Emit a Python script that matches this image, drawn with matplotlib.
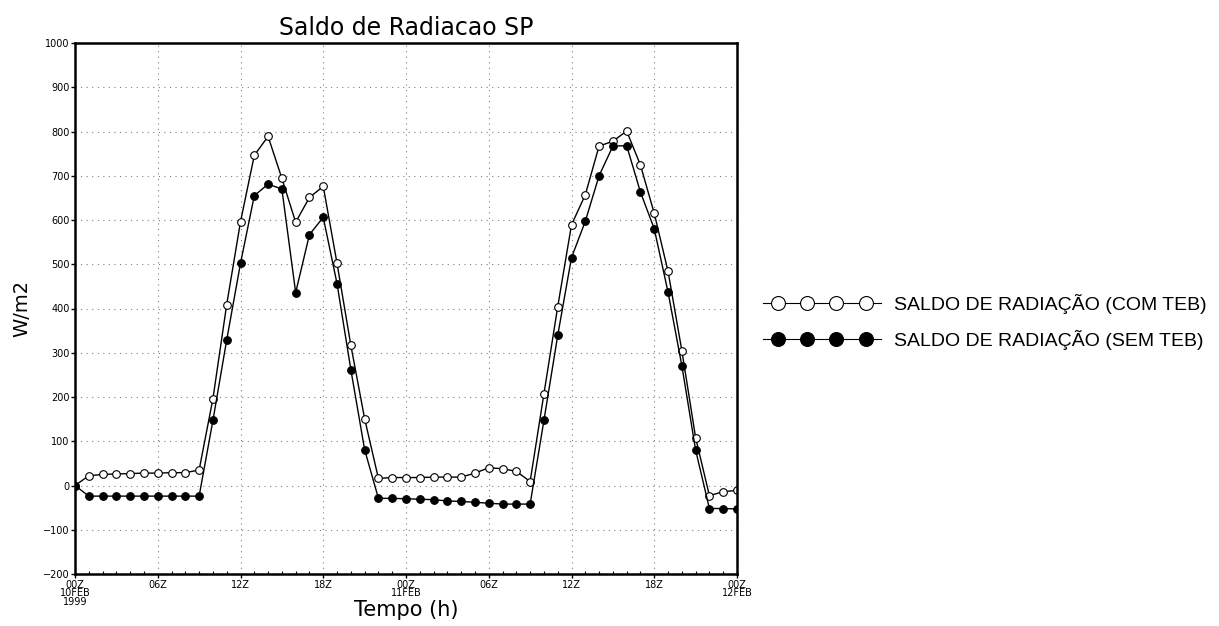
import matplotlib.pyplot as plt
import numpy as np
from matplotlib.lines import Line2D
from matplotlib.legend_handler import HandlerLine2D

# Hourly values, 00Z 10FEB 1999 to 00Z 12FEB
hours = np.arange(49)
com_teb = [0, 22, 25, 26, 27, 28, 28, 29, 29, 35,
           196, 409, 596, 746, 789, 694, 595, 651, 676, 502,
           317, 151, 16, 18, 18, 18, 19, 19, 19, 28,
           40, 38, 32, 9, 207, 404, 589, 657, 767, 778,
           801, 724, 615, 484, 305, 108, -23, -14, -11]
sem_teb = [0, -24, -24, -24, -24, -24, -24, -24, -24, -24,
           147, 329, 502, 655, 681, 670, 436, 567, 606, 456,
           262, 81, -29, -29, -30, -31, -32, -35, -36, -38,
           -40, -42, -42, -42, 147, 339, 515, 597, 700, 767,
           768, 663, 580, 437, 271, 80, -52, -52, -53]

xtick_pos = [0, 6, 12, 18, 24, 30, 36, 42, 48]
xtick_labels = ["00Z\n10FEB\n1999", "06Z", "12Z", "18Z", "00Z\n11FEB",
                "06Z", "12Z", "18Z", "00Z\n12FEB"]
yticks = np.arange(-200, 1001, 100)
series_labels = ["SALDO DE RADIAÇÃO (COM TEB)", "SALDO DE RADIAÇÃO (SEM TEB)"]


# legend handle: line runs past the outer markers, like GrADS draws it
class LongLineHandler(HandlerLine2D):
    def create_artists(self, legend, orig_handle, xdescent, ydescent,
                       width, height, fontsize, trans):
        y = (height - ydescent) / 2
        x0 = -xdescent
        line = Line2D([x0, x0 + width], [y, y])
        self.update_prop(line, orig_handle, legend)
        line.set_marker('None')
        pad = 0.13 * width
        xm = np.linspace(x0 + pad, x0 + width - pad, 4)
        marks = Line2D(xm, np.full_like(xm, y), linestyle='None')
        self.update_prop(marks, orig_handle, legend)
        marks.set_linestyle('None')
        line.set_transform(trans)
        marks.set_transform(trans)
        return [line, marks]


fig = plt.figure(figsize=(12.19, 6.26), dpi=100)
ax = fig.add_axes([75 / 1219, 52 / 626, 662 / 1219, 531 / 626])

ax.plot(hours, com_teb, color='black', lw=1, marker='o', ms=5.5,
        mfc='white', mec='black', mew=0.8)
ax.plot(hours, sem_teb, color='black', lw=1, marker='o', ms=5.5,
        mfc='black', mec='black', mew=0.8)

ax.set_xlim(0, 48)
ax.set_ylim(-200, 1000)
ax.set_xticks(xtick_pos)
ax.set_xticklabels(xtick_labels, fontsize=7, linespacing=0.85)
ax.set_xticks(hours, minor=True)
ax.set_yticks(yticks)
ax.set_yticklabels([str(v).replace('-', '\u2212') for v in yticks], fontsize=7)
ax.tick_params(axis='both', which='major', direction='out', length=3, width=1, pad=1)
ax.tick_params(axis='x', which='minor', direction='in', length=2, width=0.8)
ax.grid(True, which='major', color='gray', linestyle=(0, (1, 4)), lw=0.8)
for s in ax.spines.values():
    s.set_linewidth(1.8)

ax.set_title("Saldo de Radiacao SP", fontsize=17, pad=6)
ax.set_xlabel("Tempo (h)", fontsize=15, labelpad=-5)
ax.set_ylabel("W/m2", fontsize=14, labelpad=8)

handles = [
    Line2D([], [], color='black', lw=0.8, marker='o', ms=10, mfc='white', mec='black', mew=0.8),
    Line2D([], [], color='black', lw=0.8, marker='o', ms=10, mfc='black', mec='black', mew=0.8),
]
fig.legend(handles, series_labels, loc='upper left',
           bbox_to_anchor=(745 / 1219, 1 - 276 / 626), frameon=False,
           handler_map={Line2D: LongLineHandler()},
           handlelength=6.1, handletextpad=0.65,
           labelspacing=0.85, prop={'family': 'Liberation Sans', 'size': 14})

fig.savefig("out.png", dpi=100)
